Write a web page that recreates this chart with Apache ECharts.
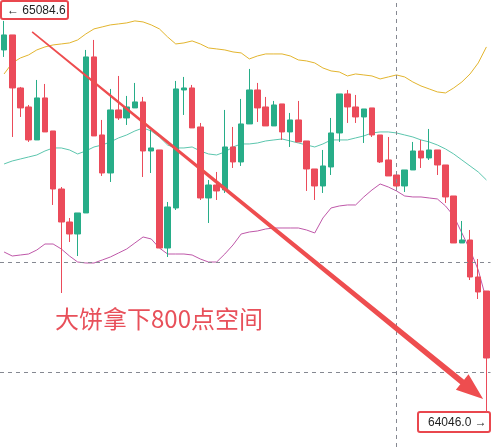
<!DOCTYPE html>
<html>
<head>
<meta charset="utf-8">
<script src="https://cdn.jsdelivr.net/npm/echarts@6/dist/echarts.min.js"></script>
<style>
  html, body { margin: 0; padding: 0; background: #fff; }
  #main { width: 492px; height: 447px; }
</style>
</head>
<body>
<div id="main"></div>
<script>
// [open, close, low, high]
const candles = [
  [65007.7, 65047.5, 64989.2, 65084.6], [65047.5, 64907.0, 64777.2, 65047.5],
  [64907.0, 64854.1, 64830.2, 64909.7], [64856.7, 64769.3, 64764.0, 64862.0],
  [64769.3, 64880.6, 64769.3, 64928.2], [64880.6, 64790.5, 64790.5, 64917.6],
  [64793.1, 64639.4, 64597.1, 64793.1], [64639.4, 64552.0, 64363.9, 64644.7],
  [64552.0, 64520.2, 64499.0, 64562.6], [64520.2, 64575.9, 64461.9, 64575.9],
  [64575.9, 64989.2, 64575.9, 65007.7], [64989.2, 64779.9, 64779.9, 65034.2],
  [64782.5, 64681.8, 64673.9, 64822.3], [64681.8, 64848.8, 64658.0, 64904.4],
  [64848.8, 64827.6, 64822.3, 64938.8], [64827.6, 64856.7, 64809.0, 64885.9],
  [64854.1, 64870.0, 64854.1, 64920.3], [64870.0, 64740.1, 64671.2, 64883.2],
  [64740.1, 64748.1, 64681.8, 64795.8], [64742.8, 64483.1, 64483.1, 64742.8],
  [64483.1, 64591.8, 64459.3, 64605.0], [64589.1, 64904.4, 64583.8, 64925.6],
  [64901.7, 64907.0, 64835.5, 64936.2], [64907.0, 64801.1, 64801.1, 64915.0],
  [64803.7, 64615.6, 64610.3, 64814.3], [64615.6, 64650.0, 64549.4, 64663.3],
  [64650.0, 64634.2, 64610.3, 64684.5], [64636.8, 64750.7, 64628.9, 64848.8],
  [64750.7, 64711.0, 64695.1, 64803.7], [64711.0, 64811.7, 64700.4, 64877.9],
  [64811.7, 64901.7, 64811.7, 64957.4], [64901.7, 64854.1, 64817.0, 64920.3],
  [64856.7, 64806.4, 64806.4, 64883.2], [64806.4, 64862.0, 64806.4, 64872.6],
  [64864.7, 64790.5, 64769.3, 64864.7], [64790.5, 64822.3, 64750.7, 64840.8],
  [64822.3, 64764.0, 64764.0, 64872.6], [64766.6, 64692.4, 64634.2, 64766.6],
  [64692.4, 64647.4, 64610.3, 64692.4], [64647.4, 64700.4, 64628.9, 64742.8],
  [64697.7, 64787.8, 64676.5, 64827.6], [64787.8, 64891.2, 64764.0, 64891.2],
  [64891.2, 64856.7, 64814.3, 64901.7], [64856.7, 64830.2, 64814.3, 64888.5],
  [64830.2, 64851.4, 64761.3, 64851.4], [64854.1, 64782.5, 64777.2, 64854.1],
  [64782.5, 64711.0, 64708.3, 64782.5], [64716.3, 64673.9, 64673.9, 64777.2],
  [64676.5, 64647.4, 64636.8, 64676.5], [64647.4, 64689.8, 64631.5, 64689.8],
  [64689.8, 64740.1, 64689.8, 64764.0], [64740.1, 64721.6, 64695.1, 64769.3],
  [64721.6, 64742.8, 64716.3, 64798.4], [64742.8, 64703.0, 64676.5, 64742.8],
  [64703.0, 64618.3, 64602.4, 64703.0], [64620.9, 64496.4, 64496.4, 64620.9],
  [64496.4, 64504.3, 64496.4, 64554.7], [64504.3, 64406.3, 64398.3, 64530.8],
  [64406.3, 64366.6, 64348.0, 64454.0], [64369.2, 64191.7, 64046.0, 64369.2]
];

// bollinger bands
const upperBand = [
  64944.1, 64973.3, 64986.5, 64994.5, 65007.7, 65015.7, 65021.0, 65023.6, 65026.3, 65034.2,
  65050.1, 65063.4, 65068.7, 65074.0, 65076.6, 65079.3, 65084.6, 65081.9, 65074.0, 65063.4,
  65042.2, 65023.6, 65026.3, 65031.6, 65023.6, 65013.0, 65010.4, 65007.7, 65002.4, 64999.8,
  64983.9, 64991.8, 64997.1, 64997.1, 64997.1, 64991.8, 64981.2, 64978.6, 64973.3, 64960.0,
  64952.1, 64949.4, 64938.8, 64944.1, 64941.5, 64938.8, 64930.9, 64936.2, 64941.5, 64936.2,
  64922.9, 64912.3, 64904.4, 64896.5, 64893.8, 64907.0, 64922.9, 64944.1, 64973.3, 65015.7
];
const midBand = [
  64705.7, 64713.6, 64718.9, 64724.2, 64729.5, 64740.1, 64748.1, 64748.1, 64742.8, 64732.2,
  64740.1, 64750.7, 64756.0, 64764.0, 64774.6, 64782.5, 64793.1, 64801.1, 64793.1, 64777.2,
  64756.0, 64748.1, 64748.1, 64750.7, 64740.1, 64732.2, 64729.5, 64737.5, 64750.7, 64758.7,
  64758.7, 64761.3, 64766.6, 64769.3, 64771.9, 64766.6, 64761.3, 64756.0, 64750.7, 64758.7,
  64769.3, 64769.3, 64769.3, 64774.6, 64779.9, 64787.8, 64790.5, 64790.5, 64787.8, 64782.5,
  64777.2, 64769.3, 64764.0, 64756.0, 64745.4, 64732.2, 64716.3, 64700.4, 64684.5, 64663.3
];
const lowerBand = [
  64472.5, 64461.9, 64464.6, 64467.2, 64477.8, 64493.7, 64493.7, 64480.5, 64461.9, 64446.0,
  64443.4, 64443.4, 64451.3, 64459.3, 64469.9, 64480.5, 64496.4, 64512.3, 64507.0, 64483.1,
  64467.2, 64467.2, 64467.2, 64464.6, 64454.0, 64446.0, 64446.0, 64467.2, 64491.1, 64520.2,
  64525.5, 64528.2, 64533.5, 64536.1, 64536.1, 64536.1, 64536.1, 64530.8, 64522.9, 64562.6,
  64589.1, 64594.4, 64597.1, 64597.1, 64618.3, 64636.8, 64652.7, 64644.7, 64634.2, 64620.9,
  64618.3, 64618.3, 64615.6, 64613.0, 64594.4, 64567.9, 64522.9, 64477.8, 64424.8, 64345.4
];

const categories = candles.map((c, i) => String(i));
const priceLines = [64446.0, 64154.6];
const markCategory = '48';
const noteText = '大饼拿下800点空间';
// arrow ends in [category index, price]
const arrowFrom = [3.43, 65055.4];
const arrowTo = [58.6, 64083.0];

const UP = '#27ad88';
const DOWN = '#eb4b5a';
const ARROW = '#ee4d4f';

const chart = echarts.init(document.getElementById('main'));

const bandLine = (name, data, color) => ({
  name: name,
  type: 'line',
  data: data,
  showSymbol: false,
  silent: true,
  z: 1,
  lineStyle: { color: color, width: 1 }
});

chart.setOption({
  animation: false,
  backgroundColor: '#ffffff',
  grid: { left: 0, right: 1.5, top: 0, bottom: 0 },
  xAxis: {
    type: 'category',
    data: categories,
    show: false,
    boundaryGap: true
  },
  yAxis: {
    type: 'value',
    show: false,
    min: 63956,
    max: 65140,
    splitLine: { show: false }
  },
  series: [
    bandLine('upper', upperBand, '#e3b52e'),
    bandLine('mid', midBand, '#5cc6ae'),
    bandLine('lower', lowerBand, '#bf58a9'),
    {
      name: 'k',
      type: 'candlestick',
      data: candles,
      barWidth: 6,
      z: 3,
      itemStyle: {
        color: UP,
        color0: DOWN,
        borderColor: UP,
        borderColor0: DOWN,
        borderWidth: 1
      },
      markLine: {
        silent: true,
        symbol: 'none',
        animation: false,
        label: { show: false },
        lineStyle: { color: '#858891', width: 1, type: [4, 4] },
        data: priceLines.map(p => ({ yAxis: p })).concat([{ xAxis: markCategory }])
      }
    }
  ]
});

// pixel of [index, price], index may be fractional
function toPx(pt) {
  const i0 = Math.floor(pt[0]);
  const f = pt[0] - i0;
  const a = chart.convertToPixel({ xAxisIndex: 0, yAxisIndex: 0 }, [i0, pt[1]]);
  const b = chart.convertToPixel({ xAxisIndex: 0, yAxisIndex: 0 }, [i0 + 1, pt[1]]);
  return [a[0] + (b[0] - a[0]) * f, a[1]];
}

function arrowShape() {
  const s = toPx(arrowFrom);
  const t = toPx(arrowTo);
  const dx = t[0] - s[0], dy = t[1] - s[1];
  const len = Math.sqrt(dx * dx + dy * dy);
  const ux = dx / len, uy = dy / len;
  const nx = -uy, ny = ux;
  const headLen = 27, headHalf = 10, w0 = 0.8, w1 = 3.0;
  const bx = t[0] - ux * headLen, by = t[1] - uy * headLen;
  return [
    [s[0] + nx * w0, s[1] + ny * w0],
    [bx + nx * w1, by + ny * w1],
    [bx + nx * headHalf, by + ny * headHalf],
    t,
    [bx - nx * headHalf, by - ny * headHalf],
    [bx - nx * w1, by - ny * w1],
    [s[0] - nx * w0, s[1] - ny * w0]
  ];
}

const highVal = Math.max(...candles.map(c => c[3]));
const lowVal = Math.min(...candles.map(c => c[2]));
const labelFont = '12px "Liberation Sans", "DejaVu Sans", sans-serif';

chart.setOption({
  graphic: [
    {
      type: 'polygon',
      z: 100,
      shape: { points: arrowShape() },
      style: { fill: ARROW }
    },
    {
      type: 'text',
      z: 100,
      x: 55,
      y: 319,
      style: {
        text: noteText,
        fill: '#e8505a',
        font: '24px "Noto Sans CJK SC", "Noto Sans", sans-serif',
        verticalAlign: 'middle'
      }
    },
    {
      type: 'group',
      z: 100,
      children: [
        {
          type: 'rect',
          shape: { x: 1, y: 1, width: 67, height: 18, r: 2 },
          style: { fill: '#fff', stroke: '#e9474e', lineWidth: 2 }
        },
        {
          type: 'text',
          x: 7,
          y: 10.5,
          style: {
            text: '\u2190 ' + highVal.toFixed(1),
            fill: '#1f1f1f',
            font: labelFont,
            verticalAlign: 'middle'
          }
        }
      ]
    },
    {
      type: 'group',
      z: 100,
      children: [
        {
          type: 'rect',
          shape: { x: 418, y: 412, width: 72, height: 20, r: 2 },
          style: { fill: '#fff', stroke: '#e9474e', lineWidth: 2 }
        },
        {
          type: 'text',
          x: 428,
          y: 422.5,
          style: {
            text: lowVal.toFixed(1) + ' \u2192',
            fill: '#1f1f1f',
            font: labelFont,
            verticalAlign: 'middle'
          }
        }
      ]
    }
  ]
});
</script>
</body>
</html>
